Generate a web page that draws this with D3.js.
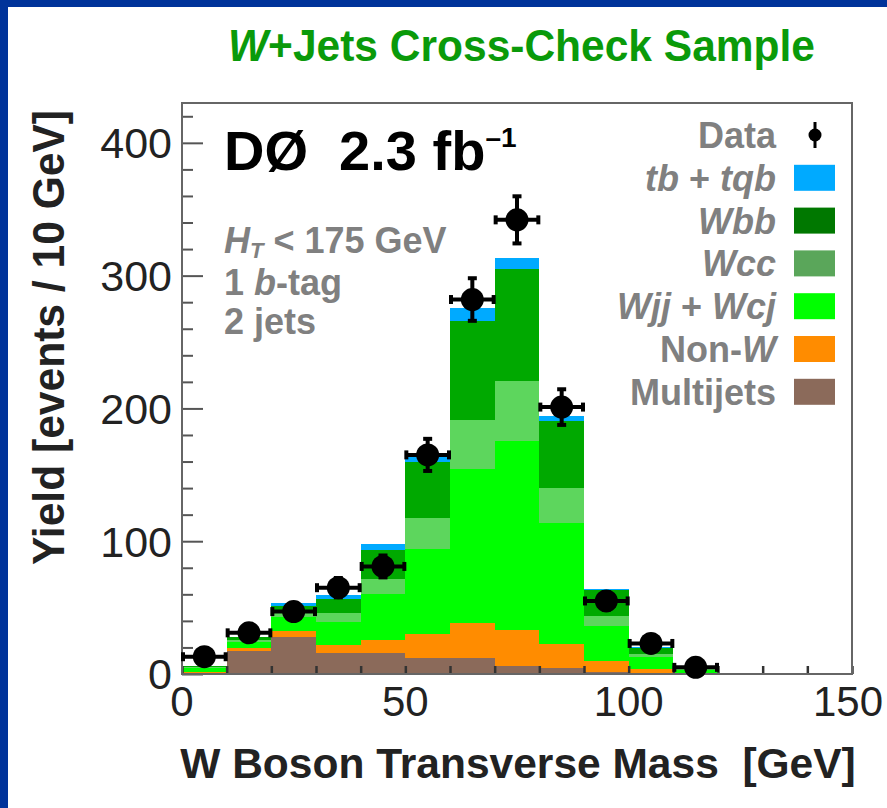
<!DOCTYPE html>
<html>
<head>
<meta charset="utf-8">
<script src="https://cdn.jsdelivr.net/npm/d3@7"></script>
<style>
  html, body { margin: 0; padding: 0; background: #fff; }
  svg text { font-family: "Liberation Sans", Arial, Helvetica, sans-serif; white-space: pre; }
</style>
</head>
<body>
<div id="chart"></div>

<script>
// ---------------------------BEGIN: data---------------------------//
var binLow    = [0, 10, 20, 30, 40, 50, 60, 70, 80, 90, 100, 110, 120, 130, 140];
var multijets = [0.3, 17.6, 28.1, 15.6, 15.6, 11.8, 12.3, 6.0, 4.3, 1.8, 0.8, 0.2, 0, 0, 0];
var nonW      = [1.2, 2.3, 4.6, 6.3, 10.3, 18.1, 25.9, 27.2, 18.1, 8.2, 2.7, 0.5, 0.6, 0.3, 0.1];
var wjj       = [2.8, 4.5, 10.0, 17.0, 34.4, 64.3, 116.3, 141.9, 91.6, 26.4, 9.5, 2.4, 0, 0, 0];
var wcc       = [1.0, 1.2, 3.0, 6.7, 11.0, 23.1, 37.0, 45.2, 26.0, 7.6, 1.8, 0.4, 0, 0, 0];
var wbb       = [0.5, 2.0, 5.8, 10.6, 21.8, 42.0, 74.5, 85.0, 50.7, 19.3, 5.0, 0.6, 0, 0, 0];
var tbtqb     = [0.2, 0.5, 2.2, 3.2, 4.5, 5.0, 9.6, 8.0, 3.3, 0.7, 0.8, 0.1, 0, 0, 0];
var dataCounts = [13, 31, 47, 65, 81, 165, 282, 342, 201, 55, 23, 5];

var xTicks = [0, 50, 100, 150];
var yTicks = [0, 100, 200, 300, 400];

// stack order bottom -> top
var seriesNames = ["Multijets", "Non-W", "Wjj+Wcj", "Wcc", "Wbb", "tb+tqb"];
var seriesVals  = [multijets, nonW, wjj, wcc, wbb, tbtqb];
var barColors   = ["#8b6a5a", "#ff8c00", "#00ff00", "#5dd65d", "#00a900", "#00aaff"];
var swatchColors = ["#8b6a5a", "#ff8c00", "#00ff00", "#5aa65a", "#007800", "#00aaff"];
// ---------------------------END: data---------------------------//

(function() {
  var W = 887, H = 808;
  var left = 182, right = 852, top = 103, bottom = 674;

  var svg = d3.select("#chart").append("svg")
    .attr("width", W).attr("height", H);

  svg.append("rect").attr("width", W).attr("height", H).attr("fill", "#fff");
  // slide border
  svg.append("rect").attr("x", 0).attr("y", 0).attr("width", W).attr("height", 7).attr("fill", "#00339a");
  svg.append("rect").attr("x", 0).attr("y", 0).attr("width", 8).attr("height", H).attr("fill", "#00339a");

  var x = d3.scaleLinear().domain([0, 150]).range([left, right]);
  var y = d3.scaleLinear().domain([0, 430]).range([bottom, top]);

  // build stacked table
  var table = binLow.map(function(b, i) {
    var row = { lo: b };
    seriesNames.forEach(function(n, k) { row[n] = seriesVals[k][i]; });
    return row;
  });
  var stack = d3.stack().keys(seriesNames)(table);

  var g = svg.append("g");
  stack.forEach(function(layer, k) {
    g.selectAll(null).data(layer).enter().append("rect")
      .attr("x", function(d) { return x(d.data.lo); })
      .attr("width", function(d) { return x(d.data.lo + 10) - x(d.data.lo); })
      .attr("y", function(d) { return y(d[1]); })
      .attr("height", function(d) { return y(d[0]) - y(d[1]); })
      .attr("fill", barColors[k])
      .attr("shape-rendering", "crispEdges");
  });

  // ---------------------------axes---------------------------//
  var yAxis = d3.axisLeft(y).tickValues(d3.range(0, 430, 20)).tickSize(0).tickFormat("");
  var ya = svg.append("g").attr("transform", "translate(" + left + ",0)").call(yAxis);
  ya.select(".domain").remove();
  ya.selectAll(".tick line")
    .attr("x2", function(d) { return d % 100 === 0 ? 21 : 11; })
    .attr("stroke", "#555").attr("stroke-width", 2);

  var xAxis = d3.axisBottom(x).tickValues(d3.range(0, 151, 10)).tickSize(0).tickFormat("");
  var xa = svg.append("g").attr("transform", "translate(0," + bottom + ")").call(xAxis);
  xa.select(".domain").remove();
  xa.selectAll(".tick line").attr("y2", -8).attr("stroke", "#333").attr("stroke-width", 2.5);

  // frame
  svg.append("rect")
    .attr("x", left).attr("y", top)
    .attr("width", right - left).attr("height", bottom - top)
    .attr("fill", "none").attr("stroke", "#666").attr("stroke-width", 2);

  svg.selectAll(".ylab").data(yTicks).enter().append("text")
    .attr("x", 172).attr("y", function(d) { return y(d); })
    .attr("dy", "0.36em").attr("text-anchor", "end")
    .attr("font-size", 43).attr("fill", "#222")
    .text(function(d) { return d; });

  svg.selectAll(".xlab").data(xTicks).enter().append("text")
    .attr("x", function(d) { return d === 150 ? x(d) - 4 : x(d); }).attr("y", 716)
    .attr("text-anchor", "middle")
    .attr("font-size", 42).attr("fill", "#222")
    .text(function(d) { return d; });

  // ---------------------------data points---------------------------//
  var pts = svg.append("g");
  dataCounts.forEach(function(n, i) {
    var cx = x(binLow[i] + 5), cy = y(n);
    var err = Math.sqrt(n);
    var x0 = x(binLow[i]), x1 = x(binLow[i] + 10);
    var y0 = y(n - err), y1 = y(n + err);
    function ln(a, b, c, d2) {
      pts.append("line").attr("x1", a).attr("y1", b).attr("x2", c).attr("y2", d2)
        .attr("stroke", "#000").attr("stroke-width", 4);
    }
    ln(x0, cy, x1, cy);
    ln(x0 + 1, cy - 4.5, x0 + 1, cy + 4.5);
    ln(x1 - 1, cy - 4.5, x1 - 1, cy + 4.5);
    ln(cx, y0, cx, y1);
    ln(cx - 4.5, y0 - 1, cx + 4.5, y0 - 1);
    ln(cx - 4.5, y1 + 1, cx + 4.5, y1 + 1);
    pts.append("circle").attr("cx", cx).attr("cy", cy).attr("r", 11.5).attr("fill", "#000");
  });

  // ---------------------------text---------------------------//
  var title = svg.append("text").attr("x", 228).attr("y", 61)
    .attr("font-size", 44).attr("font-weight", "bold")
    .attr("textLength", 587).attr("lengthAdjust", "spacingAndGlyphs")
    .attr("fill", "#0a9a0a");
  title.append("tspan").attr("font-style", "italic").text("W");
  title.append("tspan").text("+Jets Cross-Check Sample");

  var d0 = svg.append("text").attr("x", 224).attr("y", 170)
    .attr("font-size", 56).attr("font-weight", "bold").attr("fill", "#000");
  d0.append("tspan").text("DØ  2.3 fb");
  d0.append("tspan").attr("font-size", 28).attr("dy", -23).text("–1");

  var grey = "#808080";
  var info = svg.append("g").attr("font-size", 36).attr("font-weight", "bold").attr("fill", grey);
  var t1 = info.append("text").attr("x", 224).attr("y", 253);
  t1.append("tspan").attr("font-style", "italic").text("H");
  t1.append("tspan").attr("font-style", "italic").attr("font-size", 22).attr("dy", 5).text("T");
  t1.append("tspan").attr("dy", -5).text(" < 175 GeV");
  var t2 = info.append("text").attr("x", 224).attr("y", 295);
  t2.append("tspan").text("1 ");
  t2.append("tspan").attr("font-style", "italic").text("b");
  t2.append("tspan").text("-tag");
  info.append("text").attr("x", 224).attr("y", 334).text("2 jets");

  // legend
  var legendRows = [
    { parts: [["Data", 0]], color: null },
    { parts: [["tb", 1], [" + ", 0], ["tqb", 1]], color: swatchColors[5] },
    { parts: [["Wbb", 1]], color: swatchColors[4] },
    { parts: [["Wcc", 1]], color: swatchColors[3] },
    { parts: [["Wjj", 1], [" + ", 0], ["Wcj", 1]], color: swatchColors[2] },
    { parts: [["Non-", 0], ["W", 1]], color: swatchColors[1] },
    { parts: [["Multijets", 0]], color: swatchColors[0] }
  ];
  var leg = svg.append("g");
  legendRows.forEach(function(r, i) {
    var cy = 135 + i * 42.8;
    var t = leg.append("text").attr("x", 776).attr("y", cy).attr("dy", "0.36em")
      .attr("text-anchor", "end").attr("font-size", 36).attr("font-weight", "bold").attr("fill", grey);
    r.parts.forEach(function(p) {
      t.append("tspan").attr("font-style", p[1] ? "italic" : "normal").text(p[0]);
    });
    if (r.color) {
      leg.append("rect").attr("x", 794).attr("y", cy - 13).attr("width", 41).attr("height", 26)
        .attr("fill", r.color);
    } else {
      leg.append("line").attr("x1", 815).attr("x2", 815).attr("y1", cy - 13).attr("y2", cy + 13)
        .attr("stroke", "#000").attr("stroke-width", 3);
      leg.append("circle").attr("cx", 815).attr("cy", cy).attr("r", 6.5).attr("fill", "#000");
    }
  });

  svg.append("text").attr("x", 518).attr("y", 778)
    .attr("text-anchor", "middle")
    .attr("font-size", 42.5).attr("font-weight", "bold").attr("fill", "#222")
    .text("W Boson Transverse Mass  [GeV]");

  svg.append("text").attr("transform", "translate(64,565) rotate(-90)")
    .attr("font-size", 45).attr("font-weight", "bold").attr("fill", "#222")
    .attr("textLength", 455).attr("lengthAdjust", "spacingAndGlyphs")
    .text("Yield [events / 10 GeV]");
}());
</script>
</body>
</html>
